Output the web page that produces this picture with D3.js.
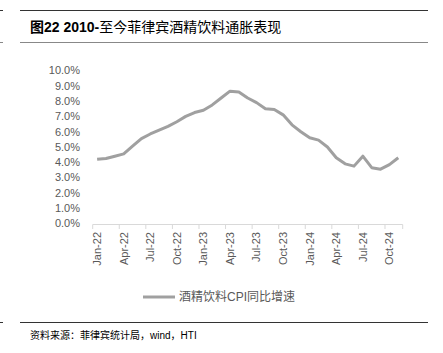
<!DOCTYPE html>
<html>
<head>
<meta charset="utf-8">
<script src="https://cdn.jsdelivr.net/npm/d3@7"></script>
<style>
  body { margin: 0; background: #fff; }
  text { font-family: "Liberation Sans", "Noto Sans CJK SC", sans-serif; }
</style>
</head>
<body>
<div id="chart"></div>
<script>
// monthly categories Jan-22 .. Nov-24
var months = ['Jan','Feb','Mar','Apr','May','Jun','Jul','Aug','Sep','Oct','Nov','Dec'];
var categories = [];
['22','23','24'].forEach(function (yr) {
    months.forEach(function (m) { categories.push(m + '-' + yr); });
});
categories = categories.slice(0, 35);

// 酒精饮料CPI同比增速 (%)
var cpiValues = [4.2, 4.25, 4.4, 4.55, 5.05, 5.55, 5.85, 6.1, 6.35, 6.65,
                 7.0, 7.25, 7.4, 7.75, 8.2, 8.65, 8.6, 8.2, 7.9, 7.5,
                 7.45, 7.1, 6.45, 6.0, 5.6, 5.45, 5.0, 4.3, 3.9, 3.75,
                 4.4, 3.65, 3.55, 3.85, 4.3];

var yTicks = [0, 1, 2, 3, 4, 5, 6, 7, 8, 9, 10];
var xTickLabels = ['Jan-22','Apr-22','Jul-22','Oct-22','Jan-23','Apr-23',
                   'Jul-23','Oct-23','Jan-24','Apr-24','Jul-24','Oct-24'];

var dim = { 'width': 443, 'height': 353 };
var svg = d3.select('#chart').append('svg').attr('width', dim.width).attr('height', dim.height);

// frame lines
function hline(y, x1, x2, col) {
    svg.append('line').attr('x1', x1).attr('x2', x2).attr('y1', y).attr('y2', y)
        .attr('stroke', col).attr('stroke-width', 1);
}
hline(10.5, 20, 428, '#333');
hline(42.5, 20, 428, '#888');
hline(322.5, 20, 428, '#333');
hline(10.5, 0, 3, '#333');
hline(42.5, 0, 3, '#888');
hline(322.5, 0, 3, '#333');

// title
var title = svg.append('text').attr('x', 30).attr('y', 32)
    .attr('font-size', 14).attr('fill', '#000');
title.append('tspan').attr('font-weight', 'bold').text('图22 2010-');
title.append('tspan').attr('font-family', 'Noto Sans CJK SC').text('至今菲律宾酒精饮料通胀表现');

var x = d3.scaleBand().domain(categories).range([92.7, 402.7]);
var y = d3.scaleLinear().domain([0, 10]).range([223.5, 70.5]);

// y axis labels
svg.append('g').selectAll('text').data(yTicks).enter().append('text')
    .attr('x', 80).attr('y', d => y(d)).attr('dy', '0.35em')
    .attr('text-anchor', 'end').attr('font-size', 11).attr('fill', '#595959')
    .text(d => d.toFixed(1) + '%');

// x axis
var ax = svg.append('g');
ax.append('line').attr('x1', 92.7).attr('x2', 402.7).attr('y1', 224.5).attr('y2', 224.5)
    .attr('stroke', '#d9d9d9');
var tickIdx = d3.range(0, categories.length + 1, 3).concat([categories.length]);
ax.selectAll('.tk').data(tickIdx).enter().append('line')
    .attr('x1', d => x.range()[0] + d * x.step()).attr('x2', d => x.range()[0] + d * x.step())
    .attr('y1', 224.5).attr('y2', 229).attr('stroke', '#d9d9d9');
ax.selectAll('.lb').data(xTickLabels).enter().append('text')
    .attr('transform', d => 'translate(' + (x(d) + x.bandwidth() / 2) + ',232) rotate(-90)')
    .attr('text-anchor', 'end').attr('dy', '0.35em')
    .attr('font-size', 11).attr('fill', '#595959').text(d => d);

// series line
var line = d3.line()
    .x((d, i) => x(categories[i]) + x.bandwidth() / 2)
    .y(d => y(d));
svg.append('path').datum(cpiValues).attr('d', line)
    .attr('fill', 'none').attr('stroke', '#a0a0a0').attr('stroke-width', 3)
    .attr('stroke-linejoin', 'round');

// legend
svg.append('line').attr('x1', 143).attr('x2', 175).attr('y1', 297).attr('y2', 297)
    .attr('stroke', '#a0a0a0').attr('stroke-width', 3);
svg.append('text').attr('x', 179).attr('y', 297).attr('dy', '0.35em')
    .attr('font-size', 12).attr('fill', '#595959').text('酒精饮料CPI同比增速');

// source
svg.append('text').attr('x', 30).attr('y', 339)
    .attr('font-size', 10).attr('fill', '#000').text('资料来源：菲律宾统计局，wind，HTI');
</script>
</body>
</html>
